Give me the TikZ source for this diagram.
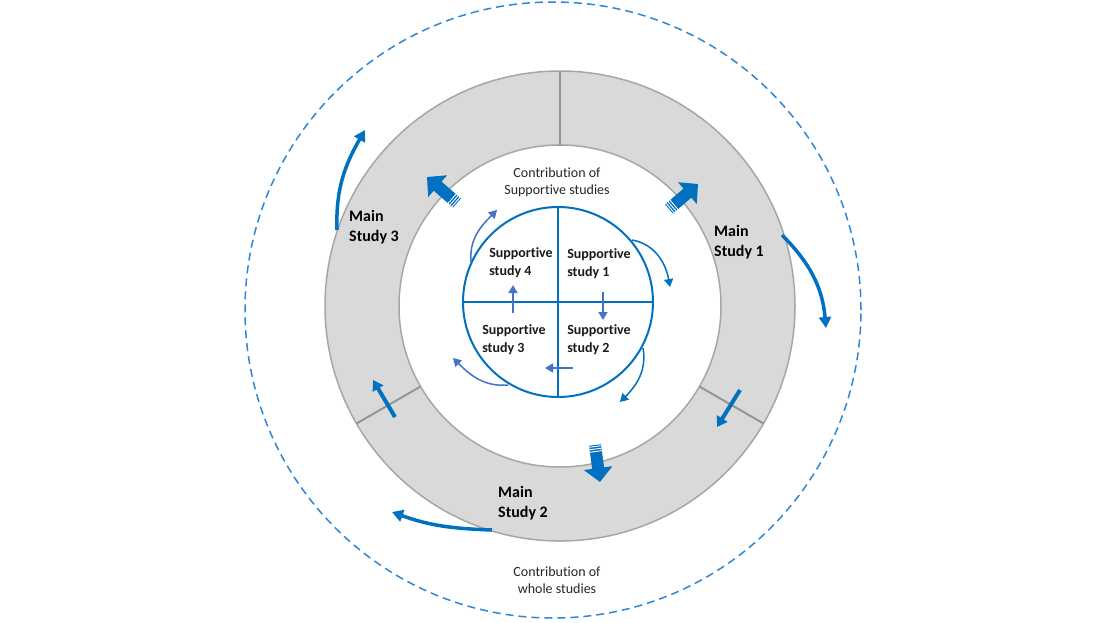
\documentclass[tikz,border=0pt]{standalone}
\usepackage{fontspec}
\setmainfont{Carlito}[Ligatures={NoCommon}]
\usetikzlibrary{arrows.meta,calc}
\definecolor{ringgray}{RGB}{217,217,217}
\definecolor{ringline}{RGB}{166,166,166}
\definecolor{mainblue}{RGB}{0,112,192}
\definecolor{lightblue}{RGB}{68,114,196}
\definecolor{dashblue}{RGB}{46,134,214}

\begin{document}
\begin{tikzpicture}[x=1pt,y=1pt]
    \tikzstyle{mainlabel}=[font=\fontsize{16}{20}\selectfont\bfseries, align=left, inner sep=0pt]
    \tikzstyle{suplabel}=[font=\fontsize{14}{18}\selectfont\bfseries, align=left, inner sep=0pt, text=black!90]
    \tikzstyle{contrib}=[font=\fontsize{14}{17}\selectfont, align=center, inner sep=0pt, text=black!85]
    \tikzstyle{ring}=[fill=ringgray, draw=ringline, line width=1.5pt, even odd rule]
    \tikzstyle{divider}=[draw=ringline!90!black, line width=2pt]
    \tikzstyle{bigarrow}=[draw=mainblue, line width=12pt, -{Triangle[length=14pt,width=28pt]}]
    \tikzstyle{midarrow}=[draw=mainblue, line width=4pt, -{Triangle[length=10pt,width=12pt]}]
    \tikzstyle{outerarrow}=[draw=mainblue, line width=3.5pt, -{Triangle[length=11pt,width=12pt]}]
    \tikzstyle{innerarrow}=[line width=1.5pt, -{Triangle[length=8pt,width=9pt]}]
    \useasboundingbox (0,0) rectangle (1106,-622);
    \coordinate (c) at (560,-306);
    \coordinate (s) at (558,-302);
    \draw[dashblue, line width=1.5pt, dash pattern=on 8pt off 5pt] (553,-310) circle (308);
    \path[ring] (c) circle (235) (c) circle (161);
    \foreach \a in {90,210,330}
      \draw[divider] ($(c)+(\a:161)$) -- ($(c)+(\a:235)$);
    \draw[mainblue, line width=2pt] (s) circle (95);
    \draw[mainblue, line width=2pt] ($(s)+(0,95)$) -- ($(s)+(0,-95)$);
    \draw[mainblue, line width=2pt] ($(s)+(-95,0)$) -- ($(s)+(95,0)$);
    \coordinate (nwt) at (457,-203);
    \coordinate (nwh) at (427,-177);
    \coordinate (net) at (669,-209);
    \coordinate (neh) at (698,-184);
    \coordinate (st) at (595,-445);
    \coordinate (sh) at (600,-482);
    \foreach \t/\h in {nwt/nwh,net/neh,st/sh} {
      \draw[bigarrow] (\t) -- (\h);
      \foreach \d in {1.5pt,4pt,6.5pt}
        \draw[white, line width=0.9pt] ($(\t)!\d!(\h)!6.5pt!90:(\h)$) -- ($(\t)!\d!(\h)!6.5pt!-90:(\h)$);
    }
    \draw[midarrow] (395,-417) -- (373,-380);
    \draw[midarrow] (740,-390) -- (717,-427);
    \draw[outerarrow] (337,-230) to[out=92,in=240] (365,-130);
    \draw[outerarrow] (782,-235) to[out=-45,in=95] (826,-328);
    \draw[outerarrow] (492,-530) to[out=178,in=-20] (392,-512);
    \draw[innerarrow, lightblue] (603,-292) -- (603,-320);
    \draw[innerarrow, lightblue] (573,-368) -- (545,-368);
    \draw[innerarrow, lightblue] (513,-313) -- (513,-285);
    \draw[innerarrow, lightblue] (471,-262) to[out=95,in=225] (497,-210);
    \draw[innerarrow, mainblue] (632,-240) to[out=-10,in=100] (670,-287);
    \draw[innerarrow, mainblue] (643,-348) to[out=-80,in=45] (620,-402);
    \draw[innerarrow, lightblue] (508,-385) to[out=185,in=-45] (453,-358);
    \node[mainlabel] (ms1) at (739,-242) {Main\\Study 1};
    \node[mainlabel] (ms2) at (523,-503) {Main\\Study 2};
    \node[mainlabel] (ms3) at (374,-227) {Main\\Study 3};
    \node[suplabel] (s1) at (599,-264) {Supportive\\study 1};
    \node[suplabel] (s2) at (599,-340) {Supportive\\study 2};
    \node[suplabel] (s3) at (514,-340) {Supportive\\study 3};
    \node[suplabel] (s4) at (521,-263) {Supportive\\study 4};
    \node[contrib] (csup) at (557,-182) {Contribution of\\Supportive studies};
    \node[contrib] (cwhole) at (557,-580) {Contribution of\\whole studies};
\end{tikzpicture}
\end{document}
